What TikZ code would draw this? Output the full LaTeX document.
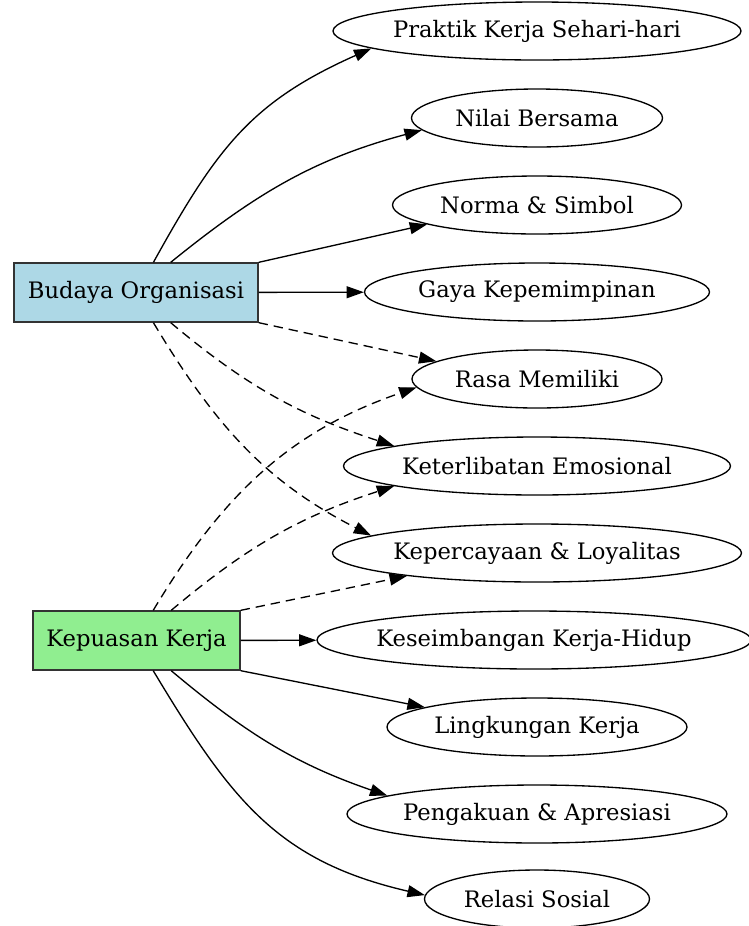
\documentclass[tikz,border=0pt]{standalone}
\usepackage{fontspec}
\setmainfont{DejaVu Serif}
\usetikzlibrary{shapes.geometric,arrows.meta}
\definecolor{boblue}{HTML}{ADD8E6}
\definecolor{kpgreen}{HTML}{90EE90}
\begin{document}
\begin{tikzpicture}[x=0.75pt,y=0.75pt,
  font=\fontsize{17}{20}\selectfont,
  line width=1pt,
  oval/.style={draw,ellipse,inner ysep=0pt,inner xsep=-20pt,minimum height=43.5pt,minimum width=#1*0.75pt},
  box/.style={draw=black!80,fill=#1,inner sep=0pt,minimum height=44.25pt},
  link/.style={-{Triangle[length=13pt,width=9pt]}},
  weak/.style={link,dash pattern=on 7pt off 4.5pt}]
\useasboundingbox (0,0) rectangle (749,-926);
% factors
\node[box=boblue,minimum width=183pt] (bo) at (136,-292.5) {Budaya Organisasi};
\node[box=kpgreen,minimum width=155.25pt] (kp) at (136.5,-640.5) {Kepuasan Kerja};
% aspects
\node[oval=408] (pr) at (537,-31) {Praktik Kerja Sehari-hari};
\node[oval=251] (ni) at (537,-118) {Nilai Bersama};
\node[oval=289] (no) at (537,-205) {Norma \& Simbol};
\node[oval=345] (ga) at (537,-292) {Gaya Kepemimpinan};
\node[oval=250] (ra) at (537,-379) {Rasa Memiliki};
\node[oval=387] (ke) at (537,-466) {Keterlibatan Emosional};
\node[oval=409] (kc) at (537,-553) {Kepercayaan \& Loyalitas};
\node[oval=434] (ks) at (534,-640) {Keseimbangan Kerja-Hidup};
\node[oval=300] (li) at (537,-727) {Lingkungan Kerja};
\node[oval=380] (pe) at (537,-814) {Pengakuan \& Apresiasi};
\node[oval=225] (re) at (537,-899) {Relasi Sosial};
% Budaya Organisasi
\draw[link] (bo.60) to[out=61,in=204,looseness=1.1] (pr.186);
\draw[link] (bo.41) to[out=39,in=195] (ni.186);
\draw[link] (bo.north east) -- (no.190);
\draw[link] (bo) -- (ga);
\draw[weak] (bo.south east) -- (ra.170);
\draw[weak] (bo.-41) to[out=-40,in=162] (ke.172);
\draw[weak] (bo.-60) to[out=-59,in=153] (kc.174);
% Kepuasan Kerja
\draw[weak] (kp.61) to[out=59,in=199] (ra.184);
\draw[weak] (kp.41) to[out=40,in=198] (ke.188);
\draw[weak] (kp.north east) -- (kc.190);
\draw[link] (kp) -- (ks);
\draw[link] (kp.south east) -- (li.170);
\draw[link] (kp.-41) to[out=-40,in=161] (pe.173);
\draw[link] (kp.-61) to[out=-59,in=167,looseness=1.1] (re.178);
\end{tikzpicture}
\end{document}
